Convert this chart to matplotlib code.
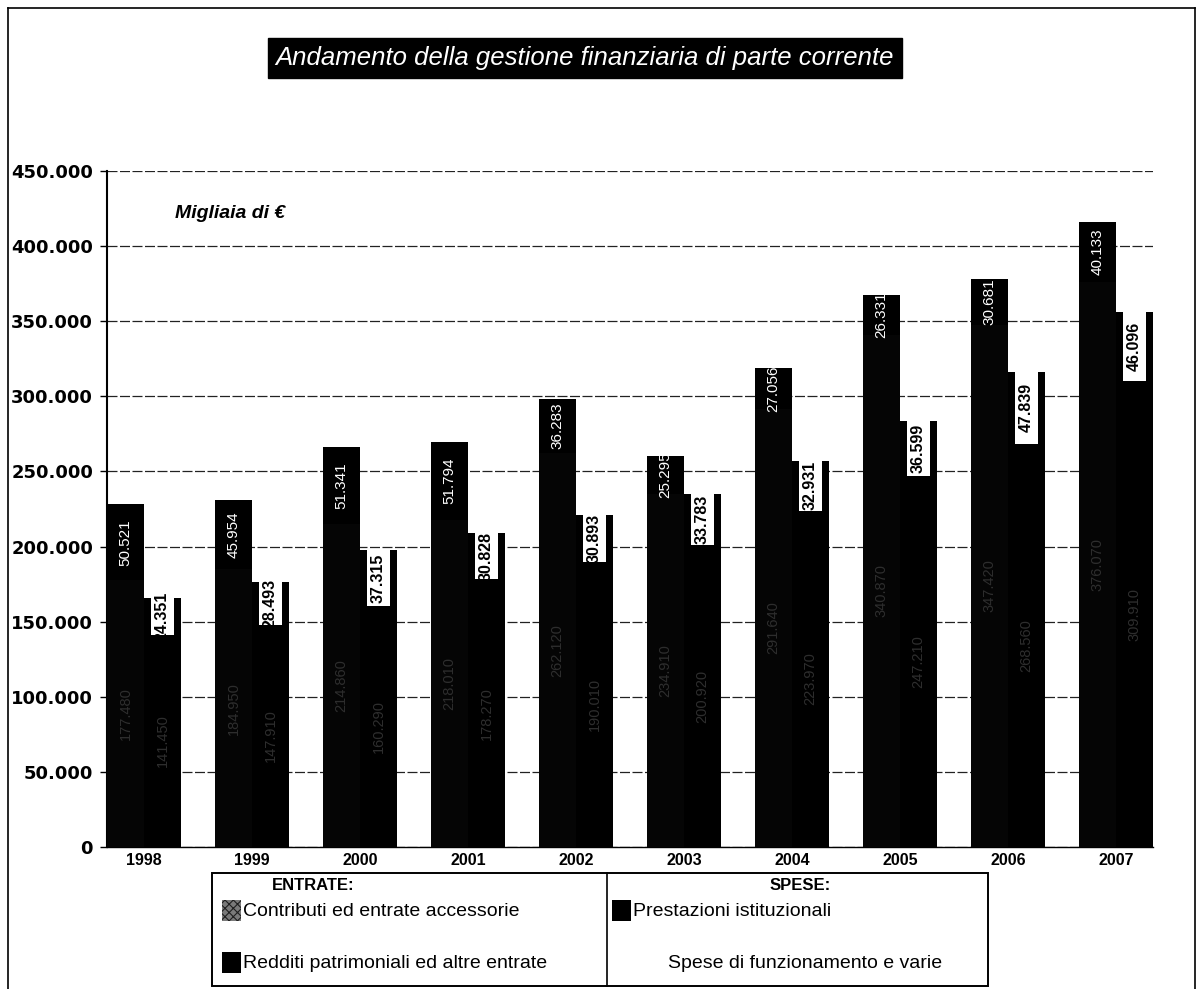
import numpy as np
import matplotlib
matplotlib.use("Agg")
import matplotlib.pyplot as plt
from matplotlib.patches import Rectangle
from matplotlib.lines import Line2D

# ==========================================
# dati (migliaia di euro)
# ==========================================
anni = ["1998", "1999", "2000", "2001", "2002", "2003", "2004", "2005", "2006", "2007"]

# ENTRATE
contributi = [177480, 184950, 214860, 218010, 262120, 234910, 291640, 340870, 347420, 376070]
redditi = [50521, 45954, 51341, 51794, 36283, 25295, 27056, 26331, 30681, 40133]

# SPESE
prestazioni = [141450, 147910, 160290, 178270, 190010, 200920, 223970, 247210, 268560, 309910]
spese = [24351, 28493, 37315, 30828, 30893, 33783, 32931, 36599, 47839, 46096]

y_ticks = [0, 50000, 100000, 150000, 200000, 250000, 300000, 350000, 400000, 450000]

TITOLO = "Andamento della gestione finanziaria di parte corrente"

W, H = 1199, 989


def fx(x):
    return x / W


def fy(y):
    return 1 - y / H


def fmt_it(v):
    return f"{v:,.0f}".replace(",", ".")


plt.rcParams['font.family'] = ['Liberation Sans', 'DejaVu Sans']
plt.rcParams['hatch.linewidth'] = 0.8

fig = plt.figure(figsize=(W / 100, H / 100), dpi=100)
ax = fig.add_axes([fx(107), fy(847), fx(1153) - fx(107), fy(171) - fy(847)])

x = np.arange(len(anni))
w = 0.342
xl = x - w / 2
xr = x + w / 2

# barre di sinistra: entrate
ax.bar(xl, contributi, w, color='#050505', linewidth=0, zorder=3)
ax.bar(xl, redditi, w, bottom=contributi, color='black', linewidth=0, zorder=3)
# barre di destra: spese
ax.bar(xr, prestazioni, w, color='black', linewidth=0, zorder=3)
ax.bar(xr, spese, w, bottom=prestazioni, color='black', linewidth=0, zorder=3)
# riquadro chiaro della scansione sul segmento spese
ax.bar(xr, spese, w * 0.62, bottom=prestazioni, color='white', linewidth=0, zorder=3.5)

# etichette dei valori
for i in range(len(anni)):
    ax.text(xl[i], contributi[i] / 2, fmt_it(contributi[i]), rotation=90, ha='center', va='center',
            color='#2e2e2e', fontsize=10.5, zorder=4)
    ax.text(xl[i], contributi[i] + redditi[i] / 2, fmt_it(redditi[i]), rotation=90, ha='center',
            va='center', color='white', fontsize=11, zorder=4)
    ax.text(xr[i], prestazioni[i] / 2, fmt_it(prestazioni[i]), rotation=90, ha='center', va='center',
            color='#2e2e2e', fontsize=10.5, zorder=4)
    ax.text(xr[i], prestazioni[i] + spese[i] / 2, fmt_it(spese[i]), rotation=90, ha='center',
            va='center', color='black', fontsize=11.5, fontweight='bold', zorder=4)

ax.set_xlim(-w, len(anni) - 1 + w)
ax.set_ylim(0, 450000)
ax.set_yticks(y_ticks)
ax.set_yticklabels([fmt_it(v) for v in y_ticks], fontsize=13, fontweight='bold', family='DejaVu Sans')
ax.set_xticks(x)
ax.set_xticklabels(anni, fontsize=11.5, fontweight='bold')
ax.tick_params(axis='x', length=0, pad=4)
ax.tick_params(axis='y', length=5, width=1, pad=5, direction='out')
ax.grid(axis='y', color='#222222', linestyle=(0, (8, 2)), linewidth=0.9, zorder=0)
for s in ['top', 'right']:
    ax.spines[s].set_visible(False)
ax.spines['left'].set_linewidth(1.5)
ax.spines['bottom'].set_linewidth(1.0)

# titolo
fig.text(fx(585), fy(58), TITOLO, color='white', style='italic', fontsize=18.5, ha='center', va='center',
         bbox=dict(facecolor='black', edgecolor='black', boxstyle='square,pad=0.3'))
fig.text(fx(175), fy(214), "Migliaia di €", fontsize=14, fontweight='bold', style='italic',
         ha='left', va='center')

# cornice esterna
for (x0, y0, x1, y1) in [(8, 8, 8, 989), (8, 8, 1195, 8), (1195, 8, 1195, 989)]:
    fig.add_artist(Line2D([fx(x0), fx(x1)], [fy(y0), fy(y1)], color='black', linewidth=1.2))

# legenda
fig.add_artist(Rectangle((fx(212), fy(986)), fx(988) - fx(212), fy(873) - fy(986), fill=False,
                         edgecolor='black', linewidth=1.4, transform=fig.transFigure))
fig.add_artist(Line2D([fx(607), fx(607)], [fy(873), fy(986)], color='black', linewidth=1.2))
fig.text(fx(313), fy(885), "ENTRATE:", fontsize=12, fontweight='bold', ha='center', va='center')
fig.text(fx(800), fy(885), "SPESE:", fontsize=12, fontweight='bold', ha='center', va='center')

voci = [
    (222, 911, '#7a7a7a', 'xxxx', "Contributi ed entrate accessorie"),
    (222, 963, 'black', None, "Redditi patrimoniali ed altre entrate"),
    (612, 911, 'black', None, "Prestazioni istituzionali"),
]
for (px, py, col, hat, txt) in voci:
    fig.add_artist(Rectangle((fx(px), fy(py + 10)), fx(19), 21 / H, facecolor=col, hatch=hat,
                             edgecolor='#202020' if hat else col, linewidth=0,
                             transform=fig.transFigure))
    fig.text(fx(px + 21), fy(py), txt, fontsize=14, ha='left', va='center')
fig.text(fx(668), fy(963), "Spese di funzionamento e varie", fontsize=14, ha='left', va='center')

fig.savefig("out.png", dpi=100)
